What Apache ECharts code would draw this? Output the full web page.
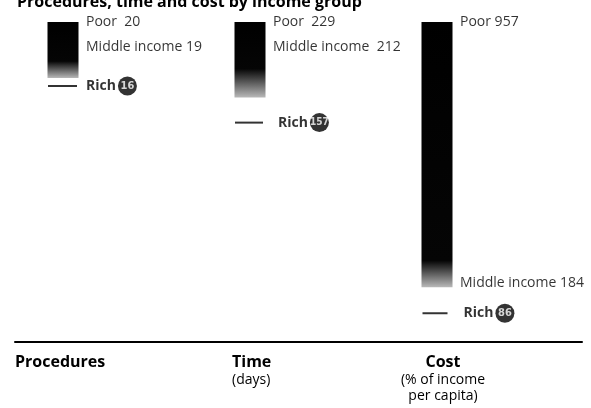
<!DOCTYPE html>
<html>
<head>
<meta charset="utf-8">
<script src="https://cdn.jsdelivr.net/npm/echarts@6/dist/echarts.min.js"></script>
<style>
html,body{margin:0;padding:0;background:#fff;}
#chart{width:591px;height:408px;}
</style>
</head>
<body>
<div id="chart"></div>
<script>
// ---- data ----
const panels = ['Procedures', 'Time', 'Cost'];
const panelNotes = ['', '(days)', '(% of income\nper capita)'];
const poor = [20, 229, 957];
const middle = [19, 212, 184];
const rich = [16, 157, 86];
// value where the shaded bar fades out
const barFade = [16.5, 175, 164];

// ---- styling (not data) ----
const FONT = '"Open Sans", "Noto Sans", sans-serif';
const gridLeft = [33, 220, 407];
const fadeStart = [0.70, 0.62, 0.90];
const middleOffsetY = [9, 1, 3];
const richDistance = [9, 15, 16];
const richLineW = [29, 28, 25];
const richLineDX = [-0.5, -1, -2];

const chart = echarts.init(document.getElementById('chart'));

const grids = [], xAxes = [], yAxes = [], series = [];
panels.forEach((p, i) => {
  grids.push({left: gridLeft[i], width: 60, top: 22, bottom: 66});
  xAxes.push({type: 'category', gridIndex: i, data: [p], show: false});
  yAxes.push({type: 'value', gridIndex: i, min: 0, max: poor[i], show: false});
  // invisible base of the stacked bar
  series.push({
    type: 'bar', xAxisIndex: i, yAxisIndex: i, stack: 's' + i,
    barWidth: 31, silent: true,
    itemStyle: {color: 'rgba(0,0,0,0)'},
    data: [barFade[i]]
  });
  // visible shaded bar reaching the Poor value
  series.push({
    type: 'bar', xAxisIndex: i, yAxisIndex: i, stack: 's' + i,
    barWidth: 31,
    itemStyle: {
      color: new echarts.graphic.LinearGradient(0, 0, 0, 1, [
        {offset: 0, color: '#000'},
        {offset: fadeStart[i], color: '#050505'},
        {offset: 1, color: '#b8b8b8'}
      ])
    },
    data: [poor[i] - barFade[i]]
  });
  // Poor label
  series.push({
    type: 'scatter', xAxisIndex: i, yAxisIndex: i, symbolSize: 0,
    label: {
      show: true, position: 'right', distance: 23,
      formatter: 'Poor' + (i < 2 ? '  ' : ' ') + poor[i],
      fontFamily: FONT, fontSize: 14, color: '#000'
    },
    data: [poor[i]]
  });
  // Middle income label
  series.push({
    type: 'scatter', xAxisIndex: i, yAxisIndex: i, symbolSize: 0,
    label: {
      show: true, position: 'right', distance: 23,
      offset: [0, middleOffsetY[i]],
      formatter: 'Middle income' + (i === 1 ? '  ' : ' ') + middle[i],
      fontFamily: FONT, fontSize: 14, color: '#000'
    },
    data: [middle[i]]
  });
  // Rich marker line + label
  series.push({
    type: 'scatter', xAxisIndex: i, yAxisIndex: i,
    symbol: 'rect', symbolSize: [richLineW[i], 2], symbolOffset: [richLineDX[i], 0],
    itemStyle: {color: '#000'},
    label: {
      show: true, position: 'right', distance: richDistance[i],
      formatter: '{b|Rich}{c|' + rich[i] + '}',
      rich: {
        b: {fontFamily: FONT, fontSize: 14, fontWeight: 'bold', color: '#000', padding: [0, 2, 0, 0]},
        c: {fontFamily: '"Liberation Sans Narrow", "DejaVu Sans Condensed", sans-serif',
            fontSize: i === 1 ? 10 : 11, fontWeight: 'bold', color: '#fff',
            backgroundColor: '#000', borderRadius: 10, width: 19, height: 19, lineHeight: 19, align: 'center'}
      }
    },
    data: [rich[i]]
  });
});

// shared baseline axis
grids.push({left: 15, right: 9, top: 22, bottom: 66});
xAxes.push({type: 'value', gridIndex: 3, min: 0, max: 1,
  axisLine: {show: true, lineStyle: {color: '#000', width: 2}},
  axisTick: {show: false}, axisLabel: {show: false}, splitLine: {show: false}});
yAxes.push({type: 'value', gridIndex: 3, show: false});

const titles = [
  {text: 'Procedures, time and cost by income group', left: 12, top: -12,
   textStyle: {fontFamily: FONT, fontSize: 16, fontWeight: 'bold', color: '#000', lineHeight: 18}},
  {text: panels[0], subtext: panelNotes[0], left: 15, top: 352, padding: 0, itemGap: 1,
   textStyle: {fontFamily: FONT, fontSize: 16, fontWeight: 'bold', color: '#000', lineHeight: 20}},
  {text: panels[1], subtext: panelNotes[1], left: 232, top: 352, padding: 0, itemGap: 0,
   textStyle: {fontFamily: FONT, fontSize: 16, fontWeight: 'bold', color: '#000', lineHeight: 20},
   subtextStyle: {fontFamily: FONT, fontSize: 14, color: '#000', lineHeight: 16}},
  {text: panels[2], subtext: panelNotes[2], left: 443, textAlign: 'center', top: 352, padding: 0, itemGap: 0,
   textStyle: {fontFamily: FONT, fontSize: 16, fontWeight: 'bold', color: '#000', lineHeight: 20},
   subtextStyle: {fontFamily: FONT, fontSize: 14, color: '#000', lineHeight: 16}}
];

chart.setOption({
  backgroundColor: '#fff',
  animation: false,
  title: titles,
  grid: grids,
  xAxis: xAxes,
  yAxis: yAxes,
  series: series
});
</script>
</body>
</html>
